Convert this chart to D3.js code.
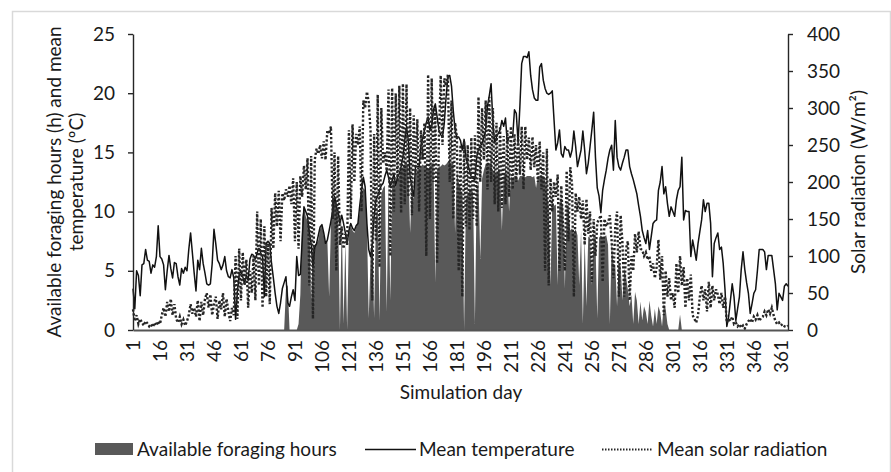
<!DOCTYPE html>
<html>
<head>
<meta charset="utf-8">
<script src="https://cdn.jsdelivr.net/npm/d3@7"></script>
<style>
  body { margin: 0; background: #fff; }
  text { font-family: Lato, "Open Sans", sans-serif; fill: #1a1a1a; }
</style>
</head>
<body>
<script>
// Simulation days 1..365
const days = d3.range(1, 366);
const dayTicks = [1, 16, 31, 46, 61, 76, 91, 106, 121, 136, 151, 166, 181, 196, 211, 226, 241, 256, 271, 286, 301, 316, 331, 346, 361];
const leftTicks = [0, 5, 10, 15, 20, 25];
const rightTicks = [0, 50, 100, 150, 200, 250, 300, 350, 400];

// Available foraging hours (h)
const foraging = [
  0, 0, 0, 0, 0, 0, 0, 0, 0, 0,
  0, 0, 0, 0, 0, 0, 0, 0, 0, 0,
  0, 0, 0, 0, 0, 0, 0, 0, 0, 0,
  0, 0, 0, 0, 0, 0, 0, 0, 0, 0,
  0, 0, 0, 0, 0, 0, 0, 0, 0, 0,
  0, 0, 0, 0, 0, 0, 0, 0, 0, 0,
  0, 0, 0, 0, 0, 0, 0, 0, 0, 0,
  0, 0, 0, 0, 0, 0, 0, 0, 0, 0,
  0, 0, 0, 0, 0, 3.5, 3.8, 0, 0, 0,
  0, 0, 0.5, 3.0, 9.5, 10.4, 9.6, 9.2, 8.8, 2.5,
  7.0, 7.2, 7.3, 7.6, 8.5, 8.8, 8.0, 7.2, 7.6, 2.8,
  9.0, 10.0, 11.0, 10.4, 9.8, 0.0, 9.5, 0.5, 7.5, 0.0,
  8.2, 8.8, 8.4, 8.2, 8.7, 9.0, 10.0, 11.5, 12.0, 11.8,
  9.0, 1.0, 6.0, 7.0, 1.0, 9.5, 10.5, 0.8, 11.5, 12.0,
  12.2, 1.5, 12.5, 2.5, 12.2, 12.8, 12.0, 12.6, 13.0, 13.5,
  13.8, 14.0, 14.2, 13.8, 8.2, 12.0, 11.0, 13.2, 13.5, 13.6,
  13.8, 14.0, 13.8, 14.0, 13.5, 13.8, 14.0, 14.2, 4.0, 13.5,
  13.8, 13.8, 14.0, 13.9, 14.0, 14.2, 14.2, 14.0, 14.1, 8.2,
  13.5, 12.5, 12.0, 11.5, 0.0, 11.0, 11.5, 11.8, 12.0, 11.6,
  0.5, 12.0, 12.5, 6.0, 12.8, 13.5, 14.0, 14.0, 14.1, 13.8,
  13.5, 13.0, 13.2, 13.5, 13.6, 8.4, 13.2, 13.0, 13.5, 10.0,
  13.0, 12.8, 13.0, 13.0, 12.6, 13.0, 13.0, 13.0, 12.9, 13.0,
  13.0, 13.0, 12.9, 13.0, 12.0, 13.0, 13.0, 12.9, 13.0, 12.8,
  11.5, 10.5, 3.8, 10.7, 10.5, 10.6, 3.8, 10.8, 11.0, 10.5,
  3.5, 10.8, 10.2, 8.4, 8.6, 8.2, 8.5, 8.0, 3.8, 8.4,
  0.5, 7.8, 2.0, 7.9, 7.8, 3.8, 8.0, 7.6, 1.0, 7.8,
  8.0, 7.8, 7.9, 8.0, 7.2, 0.5, 7.5, 5.6, 5.5, 2.0,
  5.6, 5.4, 2.5, 5.2, 4.5, 3.4, 2.0, 3.0, 0.5, 3.2,
  2.5, 0.5, 2.4, 0.8, 2.0, 1.5, 0.5, 2.5, 1.2, 0.3,
  1.8, 0.5, 2.0, 1.5, 0.3, 2.2, 1.8, 0.5, 0, 0,
  0, 0, 0, 0, 1.3, 0, 0, 0, 0, 0,
  0, 0, 0, 0, 0, 0, 0, 0, 0, 0,
  0, 0, 0, 0, 0, 0, 0, 0, 0, 0,
  0, 0, 0, 0, 0, 0, 0, 0, 0, 0,
  0, 0, 0, 0, 0, 0, 0, 0, 0, 0,
  0, 0, 0, 0, 0, 0, 0, 0, 0, 0,
  0, 0, 0, 0, 0
];

// Mean temperature (ºC)
const temperature = [
  3.5, 1.8, 5.0, 4.6, 2.9, 5.5, 5.6, 6.8, 5.9, 5.8,
  4.8, 5.5, 5.3, 6.2, 8.8, 6.2, 6.0, 5.5, 3.4, 5.0,
  6.3, 5.2, 4.4, 5.7, 5.6, 4.5, 3.8, 5.2, 4.8, 5.3,
  5.0, 6.8, 8.2, 6.5, 4.8, 3.3, 5.9, 5.1, 6.9, 5.6,
  4.8, 3.9, 3.8, 3.9, 5.6, 8.5, 7.3, 5.9, 5.6, 5.1,
  5.5, 6.2, 5.0, 4.5, 4.4, 5.1, 4.4, 0.9, 3.2, 4.7,
  5.0, 4.5, 3.9, 4.6, 4.2, 6.0, 6.4, 6.3, 6.0, 6.5,
  6.9, 6.5, 6.2, 2.8, 7.3, 7.5, 7.3, 5.6, 4.4, 3.1,
  2.0, 1.4, 2.3, 3.5, 4.0, 4.5, 2.3, 2.0, 2.8, 3.4,
  2.5, 6.2, 4.6, 4.7, 7.5, 10.4, 10.0, 9.6, 8.2, 7.3,
  5.3, 7.0, 7.3, 8.0, 8.7, 8.9, 8.2, 7.3, 7.6, 8.4,
  9.2, 10.1, 11.3, 10.5, 10.0, 9.0, 9.7, 9.0, 8.2, 7.3,
  8.4, 9.0, 8.6, 8.4, 8.8, 9.0, 10.5, 11.8, 12.9, 12.1,
  9.0, 6.8, 6.2, 7.3, 9.6, 11.0, 11.3, 11.8, 12.2, 12.4,
  13.0, 13.5, 12.9, 12.1, 12.6, 13.2, 12.2, 12.9, 13.2, 13.8,
  14.6, 16.0, 17.2, 16.0, 12.9, 12.0, 11.3, 13.8, 13.8, 13.8,
  15.5, 16.2, 16.9, 17.5, 18.0, 16.9, 17.2, 18.6, 19.1, 18.0,
  16.9, 16.5, 16.3, 17.5, 19.7, 21.4, 21.5, 20.6, 18.5, 16.9,
  16.3, 16.3, 16.0, 15.2, 16.1, 14.6, 14.0, 13.5, 12.9, 12.8,
  12.7, 14.6, 15.3, 15.5, 15.8, 16.3, 16.9, 18.9, 19.8, 20.8,
  17.5, 15.8, 16.3, 16.6, 16.9, 17.7, 17.2, 17.9, 15.8, 16.3,
  16.3, 16.3, 18.6, 18.3, 15.8, 18.9, 22.5, 23.1, 23.1, 23.0,
  23.5, 21.5, 20.3, 19.6, 19.4, 19.4, 22.2, 22.5, 21.1, 20.4,
  20.0, 19.9, 20.0, 20.2, 17.7, 15.2, 15.8, 16.9, 14.9, 14.6,
  15.5, 15.2, 15.2, 14.6, 15.2, 16.8, 15.5, 13.8, 14.5, 15.2,
  16.8, 15.2, 13.2, 14.1, 15.5, 16.9, 18.4, 14.6, 12.0, 11.3,
  9.9, 11.8, 12.7, 13.5, 14.5, 15.2, 15.6, 13.5, 17.7, 14.6,
  13.8, 13.5, 14.1, 14.6, 15.2, 15.2, 13.8, 13.2, 12.7, 12.1,
  11.5, 10.5, 9.6, 8.4, 7.8, 7.3, 8.4, 6.8, 7.9, 9.0,
  9.2, 9.3, 11.8, 12.5, 13.8, 11.5, 12.1, 10.7, 9.6, 10.4,
  10.0, 9.6, 11.0, 11.8, 12.1, 14.6, 9.3, 10.1, 10.0, 10.0,
  6.2, 7.6, 6.8, 5.9, 7.3, 8.3, 9.3, 11.0, 10.0, 10.7,
  10.7, 9.0, 4.5, 7.3, 7.8, 8.2, 6.8, 7.0, 5.6, 3.4,
  0.3, 1.1, 2.5, 3.9, 2.8, 0.8, 1.8, 2.8, 5.1, 6.6,
  5.1, 4.0, 3.1, 1.4, 2.2, 3.1, 3.4, 5.0, 6.8, 6.8,
  6.8, 6.6, 5.1, 6.3, 6.3, 6.3, 5.1, 3.9, 1.7, 3.1,
  2.8, 2.5, 3.7, 3.9, 3.7
];

// Mean solar radiation (W/m²)
const solar = [
  28, 12, 20, 8, 15, 10, 6, 12, 9, 5,
  8, 4, 10, 6, 12, 8, 20, 30, 18, 38,
  25, 42, 20, 35, 15, 10, 18, 8, 14, 6,
  12, 20, 35, 22, 30, 18, 40, 12, 38, 20,
  42, 50, 30, 48, 20, 35, 45, 15, 40, 28,
  50, 18, 42, 25, 12, 30, 20, 100, 15, 110,
  40, 105, 60, 95, 30, 80, 50, 100, 40, 160,
  60, 150, 30, 140, 45, 120, 35, 165, 110, 185,
  140, 188, 120, 185, 175, 190, 180, 195, 170, 205,
  120, 200, 110, 208, 180, 222, 190, 232, 60, 235,
  15, 230, 245, 238, 250, 232, 255, 230, 270, 265,
  275, 150, 240, 80, 235, 115, 140, 110, 130, 115,
  270, 150, 278, 200, 265, 250, 275, 160, 310, 300,
  322, 308, 270, 40, 265, 120, 318, 85, 300, 225,
  240, 215, 325, 100, 327, 160, 320, 200, 330, 158,
  333, 170, 332, 180, 300, 155, 290, 210, 285, 160,
  270, 230, 280, 100, 345, 150, 340, 200, 300, 90,
  260, 344, 250, 340, 330, 345, 200, 310, 150, 280,
  260, 80, 250, 45, 255, 140, 250, 135, 260, 150,
  263, 140, 315, 200, 300, 230, 310, 190, 315, 200,
  300, 170, 280, 160, 275, 165, 262, 170, 270, 180,
  275, 190, 265, 200, 262, 210, 275, 190, 275, 230,
  260, 216, 261, 220, 250, 200, 255, 190, 240, 80,
  245, 60, 205, 160, 200, 180, 210, 80, 195, 140,
  80, 215, 120, 220, 196, 45, 185, 160, 180, 150,
  175, 115, 177, 130, 160, 65, 150, 100, 145, 150,
  155, 65, 150, 140, 145, 155, 120, 70, 140, 160,
  45, 155, 118, 45, 110, 120, 40, 100, 80, 130,
  105, 133, 110, 108, 100, 105, 95, 100, 80, 90,
  70, 85, 122, 68, 100, 20, 80, 45, 70, 40,
  50, 30, 90, 50, 100, 60, 85, 30, 70, 40,
  75, 20, 15, 10, 20, 45, 60, 40, 55, 25,
  65, 30, 60, 40, 55, 48, 35, 50, 30, 45,
  10, 15, 12, 18, 8, 10, 5, 8, 3, 6,
  2, 8, 12, 15, 10, 18, 14, 20, 12, 16,
  18, 25, 20, 28, 22, 30, 20, 12, 8, 10,
  6, 8, 5, 4, 6
];

const width = 891;
const height = 472;
const margin = { top: 34, right: 103, bottom: 142, left: 133 };

const svg = d3.select("body").append("svg")
    .attr("width", width)
    .attr("height", height);

// light frame round the chart
svg.append("rect")
    .attr("x", 12.5).attr("y", 11.5)
    .attr("width", 878).attr("height", 480)
    .attr("fill", "none")
    .attr("stroke", "#d9d9d9")
    .attr("stroke-width", 1.5);

const x = d3.scaleLinear()
    .domain([1, 365])
    .range([margin.left, width - margin.right]);

const yLeft = d3.scaleLinear()
    .domain([0, 25])
    .range([height - margin.bottom, margin.top]);

const yRight = d3.scaleLinear()
    .domain([0, 400])
    .range([height - margin.bottom, margin.top]);

// foraging hours as filled area
const area = d3.area()
    .x((d, i) => x(days[i]))
    .y0(yLeft(0))
    .y1(d => yLeft(d));

svg.append("path")
    .datum(foraging)
    .attr("fill", "#595959")
    .attr("d", area);

// mean temperature
const tempLine = d3.line()
    .x((d, i) => x(days[i]))
    .y(d => yLeft(d));

svg.append("path")
    .datum(temperature)
    .attr("fill", "none")
    .attr("stroke", "#111")
    .attr("stroke-width", 1.5)
    .attr("stroke-linejoin", "round")
    .attr("d", tempLine);

// mean solar radiation (secondary axis)
const solarLine = d3.line()
    .x((d, i) => x(days[i]))
    .y(d => yRight(d));

svg.append("path")
    .datum(solar)
    .attr("fill", "none")
    .attr("stroke", "#262626")
    .attr("stroke-width", 2.4)
    .attr("stroke-dasharray", "2.2,2")
    .attr("d", solarLine);

// axes
const leftAxis = svg.append("g")
    .attr("transform", `translate(${margin.left},0)`)
    .call(d3.axisLeft(yLeft).tickValues(leftTicks).tickSize(5).tickSizeOuter(0).tickPadding(13));

const rightAxis = svg.append("g")
    .attr("transform", `translate(${width - margin.right},0)`)
    .call(d3.axisRight(yRight).tickValues(rightTicks).tickSize(5).tickSizeOuter(0).tickPadding(14));

[leftAxis, rightAxis].forEach(g => {
    g.select(".domain").attr("stroke", "#262626").attr("stroke-width", 1.4);
    g.selectAll(".tick line").attr("stroke", "#262626").attr("stroke-width", 1.4);
    g.selectAll("text").style("font-size", "19px").attr("fill", "#1a1a1a");
});

const bottomAxis = svg.append("g")
    .attr("transform", `translate(0,${height - margin.bottom})`)
    .call(d3.axisBottom(x).tickValues(dayTicks).tickSize(0).tickSizeOuter(0));

bottomAxis.select(".domain").attr("stroke", "#555").attr("stroke-width", 2);
bottomAxis.selectAll("text")
    .style("font-size", "19px")
    .attr("fill", "#1a1a1a")
    .attr("text-anchor", "end")
    .attr("transform", "rotate(-90)")
    .attr("x", -10)
    .attr("y", 0)
    .attr("dy", "0.35em");

// axis titles
const leftTitle = svg.append("text")
    .attr("transform", "translate(0,182) rotate(-90)")
    .attr("text-anchor", "middle")
    .style("font-size", "19px");
leftTitle.append("tspan").attr("x", 0).attr("y", 61).text("Available foraging hours (h) and mean");
leftTitle.append("tspan").attr("x", 0).attr("y", 83).text("temperature (ºC)");

svg.append("text")
    .attr("transform", "translate(865,182) rotate(-90)")
    .attr("text-anchor", "middle")
    .style("font-size", "19px")
    .text("Solar radiation (W/m²)");

svg.append("text")
    .attr("x", 461).attr("y", 399)
    .attr("text-anchor", "middle")
    .style("font-size", "19px")
    .text("Simulation day");

// legend
const legend = svg.append("g").style("font-size", "19px");

legend.append("rect")
    .attr("x", 95).attr("y", 443)
    .attr("width", 38).attr("height", 12)
    .attr("fill", "#595959");
legend.append("text").attr("x", 137).attr("y", 456).text("Available foraging hours");

legend.append("line")
    .attr("x1", 365).attr("x2", 416)
    .attr("y1", 449.5).attr("y2", 449.5)
    .attr("stroke", "#111").attr("stroke-width", 1.5);
legend.append("text").attr("x", 419).attr("y", 456).text("Mean temperature");

legend.append("line")
    .attr("x1", 602).attr("x2", 653)
    .attr("y1", 449.5).attr("y2", 449.5)
    .attr("stroke", "#262626").attr("stroke-width", 2)
    .attr("stroke-dasharray", "1.5,1.5");
legend.append("text").attr("x", 657).attr("y", 456).text("Mean solar radiation");
</script>
</body>
</html>
